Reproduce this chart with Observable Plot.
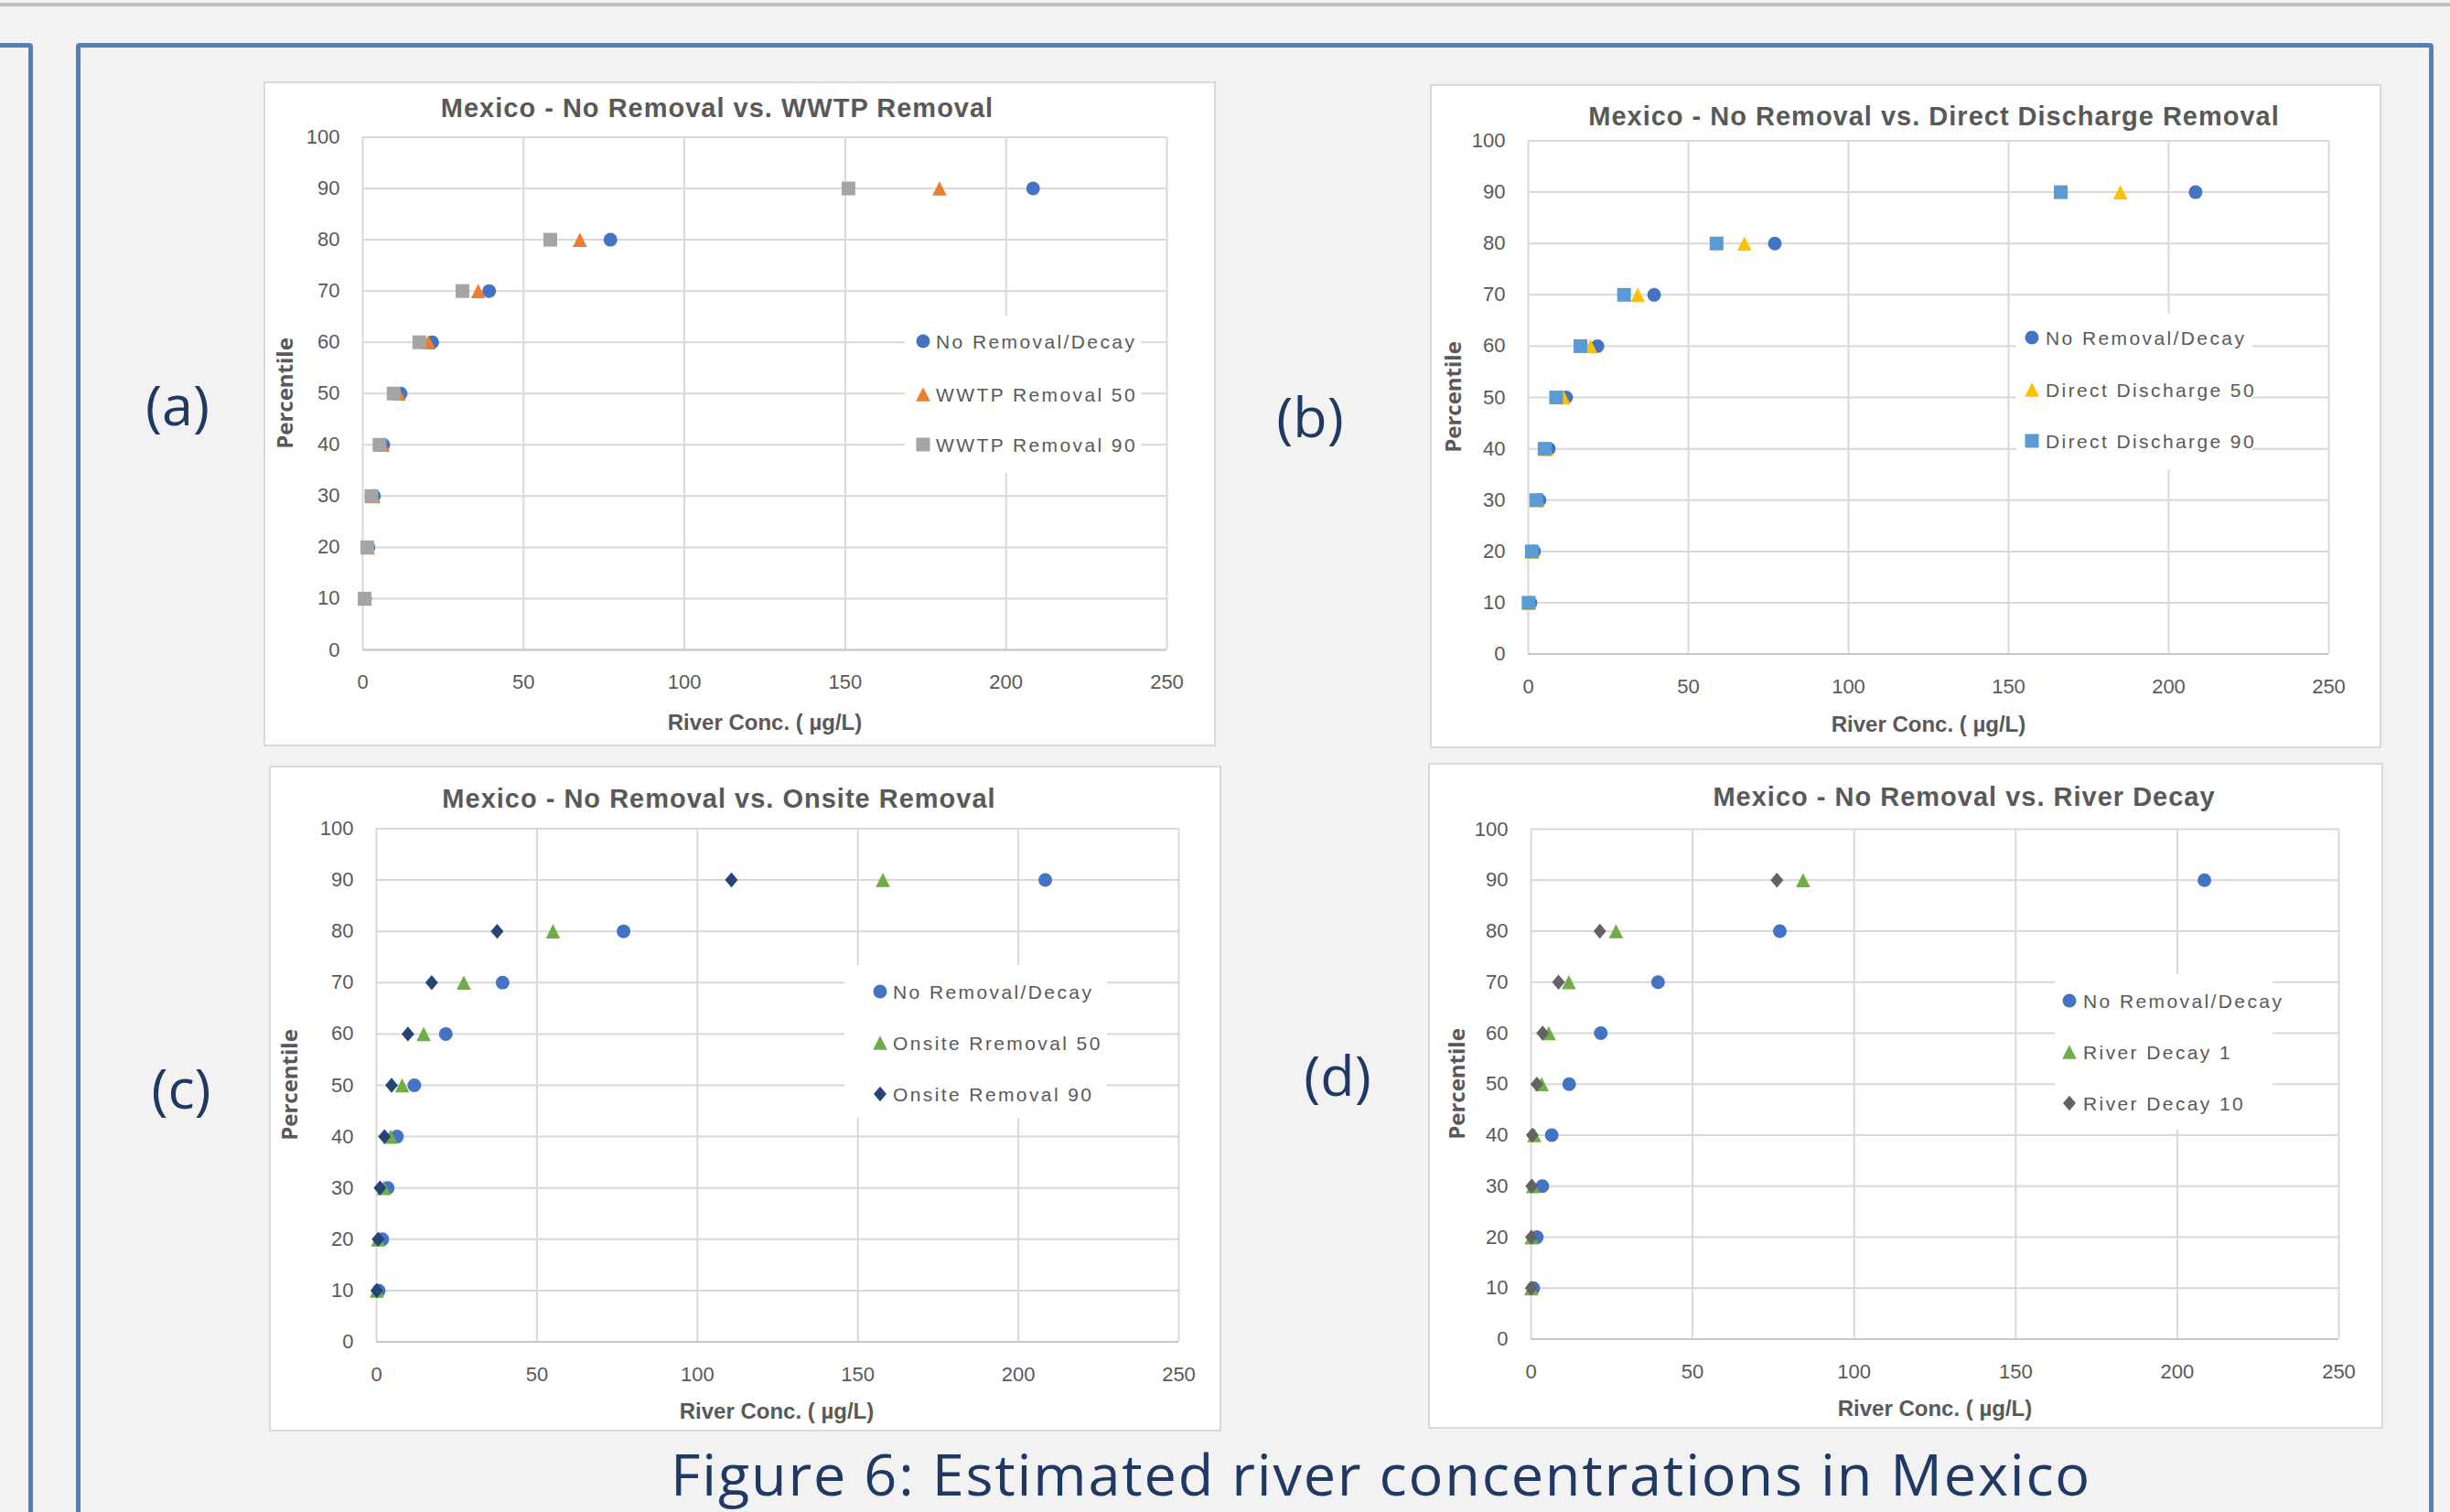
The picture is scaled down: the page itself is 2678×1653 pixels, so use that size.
<!DOCTYPE html>
<html>
<head>
<meta charset="utf-8">
<script src="https://cdn.jsdelivr.net/npm/d3@7"></script>
<script src="https://cdn.jsdelivr.net/npm/@observablehq/plot@0.6"></script>
<style>
html, body { margin: 0; padding: 0; background: #f2f2f2; }
#page { position: relative; width: 2678px; height: 1653px; overflow: hidden; background: #f2f2f2; }
.abs { position: absolute; }
.panel { position: absolute; box-sizing: border-box; background: #ffffff; border: 2px solid #d9d9d9; }
.title { position: absolute; transform: translate(-50%, -50%); white-space: nowrap; font-family: 'Liberation Sans', Arial, sans-serif; font-weight: bold; font-size: 29px; letter-spacing: 1px; line-height: 1; color: #595959; }
.xlab { position: absolute; transform: translate(-50%, -50%); white-space: nowrap; font-family: 'Liberation Sans', Arial, sans-serif; font-weight: bold; font-size: 24px; line-height: 1; color: #595959; }
.ylab { position: absolute; transform: translate(-50%, -50%) rotate(-90deg); white-space: nowrap; font-family: 'Open Sans', sans-serif; font-weight: bold; font-size: 24px; line-height: 1; color: #595959; }
.tag { position: absolute; transform: translate(-50%, -50%); white-space: nowrap; font-family: 'Open Sans', sans-serif; font-size: 61px; line-height: 1; color: #1f3864; }
.legend { position: absolute; background: #ffffff; }
.legtext { position: absolute; transform: translateY(-50%); white-space: nowrap; font-family: 'Liberation Sans', Arial, sans-serif; font-size: 21px; letter-spacing: 2.4px; line-height: 1; color: #595959; }
.caption { position: absolute; white-space: nowrap; font-family: 'Open Sans', sans-serif; font-size: 63px; letter-spacing: 1.8px; line-height: 1; color: #1f3864; }
</style>
</head>
<body>
<div id="page"></div>
<script>
// ---------------- DATA ----------------
const percentiles = [10, 20, 30, 40, 50, 60, 70, 80, 90];
const noRemoval = [0.7, 1.8, 3.5, 6.4, 11.8, 21.6, 39.3, 77.0, 208.4];
const wwtpRemoval50 = [0.6, 1.6, 3.3, 6.2, 11.2, 20.4, 35.9, 67.5, 179.3];
const wwtpRemoval90 = [0.6, 1.4, 2.7, 5.2, 9.6, 17.6, 31.0, 58.3, 151.0];
const directDischarge50 = [0.2, 1.4, 3.0, 5.7, 11.0, 19.4, 34.2, 67.5, 184.9];
const directDischarge90 = [0.1, 1.1, 2.5, 5.1, 8.7, 16.3, 29.9, 58.8, 166.3];
const onsiteRemoval50 = [0.1, 0.5, 2.3, 4.4, 8.0, 14.7, 27.2, 55.0, 157.8];
const onsiteRemoval90 = [0.1, 0.5, 1.1, 2.5, 4.7, 9.8, 17.2, 37.6, 110.6];
const riverDecay1 = [0.1, 0.2, 0.6, 1.0, 3.3, 5.5, 11.7, 26.3, 84.2];
const riverDecay10 = [0.05, 0.1, 0.2, 0.4, 1.8, 3.6, 8.5, 21.3, 76.1];
const xTicks = [0, 50, 100, 150, 200, 250];
const yTicks = [0, 10, 20, 30, 40, 50, 60, 70, 80, 90, 100];

const panelTitles = [
  "Mexico - No Removal vs. WWTP Removal",
  "Mexico - No Removal vs. Direct Discharge Removal",
  "Mexico - No Removal vs. Onsite Removal",
  "Mexico - No Removal vs. River Decay"
];
const panelTags = ["(a)", "(b)", "(c)", "(d)"];
const xLabel = "River Conc. ( µg/L)";
const yLabel = "Percentile";
const captionText = "Figure 6: Estimated river concentrations in Mexico";

// ---------------- SYMBOLS ----------------
const shapes = {
  circle: { draw(ctx, size) { const r = Math.sqrt(size / Math.PI); ctx.moveTo(r, 0); ctx.arc(0, 0, r, 0, 2 * Math.PI); } },
  triangle: { draw(ctx, size) { const r = Math.sqrt(size / Math.PI); ctx.moveTo(0, -r); ctx.lineTo(r, r); ctx.lineTo(-r, r); ctx.closePath(); } },
  square: { draw(ctx, size) { const r = Math.sqrt(size / Math.PI); ctx.rect(-r, -r, 2 * r, 2 * r); } },
  diamond: { draw(ctx, size) { const r = Math.sqrt(size / Math.PI); ctx.moveTo(0, -r); ctx.lineTo(0.85 * r, 0); ctx.lineTo(0, r); ctx.lineTo(-0.85 * r, 0); ctx.closePath(); } }
};
const shapeR = { circle: 7.5, triangle: 7.8, square: 7.5, diamond: 8.2 };

// ---------------- LAYOUT ----------------
const nrSeries = { name: "No Removal/Decay", values: noRemoval, color: "#4472c4", shape: "circle" };
const panels = [
  {
    box: [288, 89, 1041, 727], plot: [396, 149.5, 1275, 710],
    titleXY: [784, 118], xlabXY: [836, 790], ylabXY: [311, 430], tagXY: [194, 441],
    legend: { box: [989, 345, 258, 172], mx: 1009, tx: 1023, rows: [373, 431, 486] },
    series: [nrSeries,
      { name: "WWTP Removal 50", values: wwtpRemoval50, color: "#ed7d31", shape: "triangle" },
      { name: "WWTP Removal 90", values: wwtpRemoval90, color: "#a5a5a5", shape: "square" }]
  },
  {
    box: [1563, 92, 1040, 726], plot: [1670, 153.5, 2545, 714.6],
    titleXY: [2114, 127], xlabXY: [2108, 792], ylabXY: [1588, 434], tagXY: [1432, 454],
    legend: { box: [2204, 343, 258, 170], mx: 2221, tx: 2236, rows: [369, 426, 482] },
    series: [nrSeries,
      { name: "Direct Discharge 50", values: directDischarge50, color: "#ffc000", shape: "triangle" },
      { name: "Direct Discharge 90", values: directDischarge90, color: "#5b9bd5", shape: "square" }]
  },
  {
    box: [294, 837, 1041, 728], plot: [411, 905.4, 1288, 1466.6],
    titleXY: [786, 873], xlabXY: [849, 1543], ylabXY: [316, 1186], tagXY: [198, 1188],
    legend: { box: [923, 1055, 287, 167], mx: 962, tx: 976, rows: [1084, 1140, 1196] },
    series: [nrSeries,
      { name: "Onsite Rremoval 50", values: onsiteRemoval50, color: "#70ad47", shape: "triangle" },
      { name: "Onsite Removal 90", values: onsiteRemoval90, color: "#264478", shape: "diamond" }]
  },
  {
    box: [1561, 834, 1044, 728], plot: [1673, 906, 2556, 1463.6],
    titleXY: [2147, 871], xlabXY: [2115, 1540], ylabXY: [1592, 1185], tagXY: [1462, 1174],
    legend: { box: [2246, 1065, 238, 170], mx: 2262, tx: 2277, rows: [1094, 1150, 1206] },
    series: [nrSeries,
      { name: "River Decay 1", values: riverDecay1, color: "#70ad47", shape: "triangle" },
      { name: "River Decay 10", values: riverDecay10, color: "#636363", shape: "diamond" }]
  }
];

// ---------------- RENDER ----------------
const page = document.getElementById("page");
function el(tag, cls, styles, text) {
  const e = document.createElement(tag);
  if (cls) e.className = cls;
  Object.assign(e.style, styles || {});
  if (text != null) e.textContent = text;
  page.appendChild(e);
  return e;
}

// page frame lines
el("div", "abs", { left: "0px", top: "3px", width: "2678px", height: "4px", background: "#bfbfbf" });
el("div", "abs", { left: "-20px", top: "47px", width: "56px", height: "2000px", boxSizing: "border-box", border: "5px solid #4f81bd", borderRadius: "4px" });
el("div", "abs", { left: "83px", top: "47px", width: "2577px", height: "2000px", boxSizing: "border-box", border: "5px solid #4f81bd", borderRadius: "4px" });

panels.forEach((p, i) => {
  const [bx, by, bw, bh] = p.box;
  const [px0, py0, px1, py1] = p.plot;
  el("div", "panel", { left: bx + "px", top: by + "px", width: bw + "px", height: bh + "px" });

  const marks = [
    Plot.gridX(xTicks, { stroke: "#d9d9d9", strokeOpacity: 1, strokeWidth: 2 }),
    Plot.gridY(yTicks, { stroke: "#d9d9d9", strokeOpacity: 1, strokeWidth: 2 }),
    Plot.ruleY([0], { stroke: "#c8c8c8", strokeWidth: 2 }),
    Plot.axisX(xTicks, { tickSize: 0, tickPadding: 27, label: null, fontSize: 22, fill: "#595959" }),
    Plot.axisY(yTicks, { tickSize: 0, tickPadding: 25, label: null, fontSize: 22, fill: "#595959" })
  ];
  p.series.forEach(s => {
    const rows = percentiles.map((pc, k) => ({ x: s.values[k], y: pc }));
    marks.push(Plot.dot(rows, { x: "x", y: "y", fill: s.color, symbol: shapes[s.shape], r: shapeR[s.shape] }));
  });

  const svg = Plot.plot({
    width: bw, height: bh,
    marginLeft: px0 - bx, marginRight: bx + bw - px1,
    marginTop: py0 - by, marginBottom: by + bh - py1,
    x: { domain: [0, 250] },
    y: { domain: [0, 100] },
    style: { fontFamily: "'Liberation Sans', Arial, sans-serif", fontSize: "22px", color: "#595959", background: "transparent", overflow: "visible" },
    marks
  });
  svg.style.position = "absolute";
  svg.style.left = bx + "px";
  svg.style.top = by + "px";
  page.appendChild(svg);

  // legend
  const L = p.legend;
  el("div", "legend", { left: L.box[0] + "px", top: L.box[1] + "px", width: L.box[2] + "px", height: L.box[3] + "px" });
  p.series.forEach((s, k) => {
    const cy = L.rows[k];
    const r = shapeR[s.shape];
    const pth = d3.path();
    shapes[s.shape].draw(pth, r * r * Math.PI);
    const ns = "http://www.w3.org/2000/svg";
    const ms = document.createElementNS(ns, "svg");
    ms.setAttribute("width", 24); ms.setAttribute("height", 24);
    ms.setAttribute("viewBox", "-12 -12 24 24");
    Object.assign(ms.style, { position: "absolute", left: (L.mx - 12) + "px", top: (cy - 12) + "px" });
    const path = document.createElementNS(ns, "path");
    path.setAttribute("d", pth.toString());
    path.setAttribute("fill", s.color);
    ms.appendChild(path);
    page.appendChild(ms);
    el("div", "legtext", { left: L.tx + "px", top: cy + "px" }, s.name);
  });

  el("div", "title", { left: p.titleXY[0] + "px", top: p.titleXY[1] + "px" }, panelTitles[i]);
  el("div", "xlab", { left: p.xlabXY[0] + "px", top: p.xlabXY[1] + "px" }, xLabel);
  el("div", "ylab", { left: p.ylabXY[0] + "px", top: p.ylabXY[1] + "px" }, yLabel);
  el("div", "tag", { left: p.tagXY[0] + "px", top: p.tagXY[1] + "px" }, panelTags[i]);
});

el("div", "caption", { left: "733px", top: "1579px" }, captionText);
</script>
</body>
</html>
